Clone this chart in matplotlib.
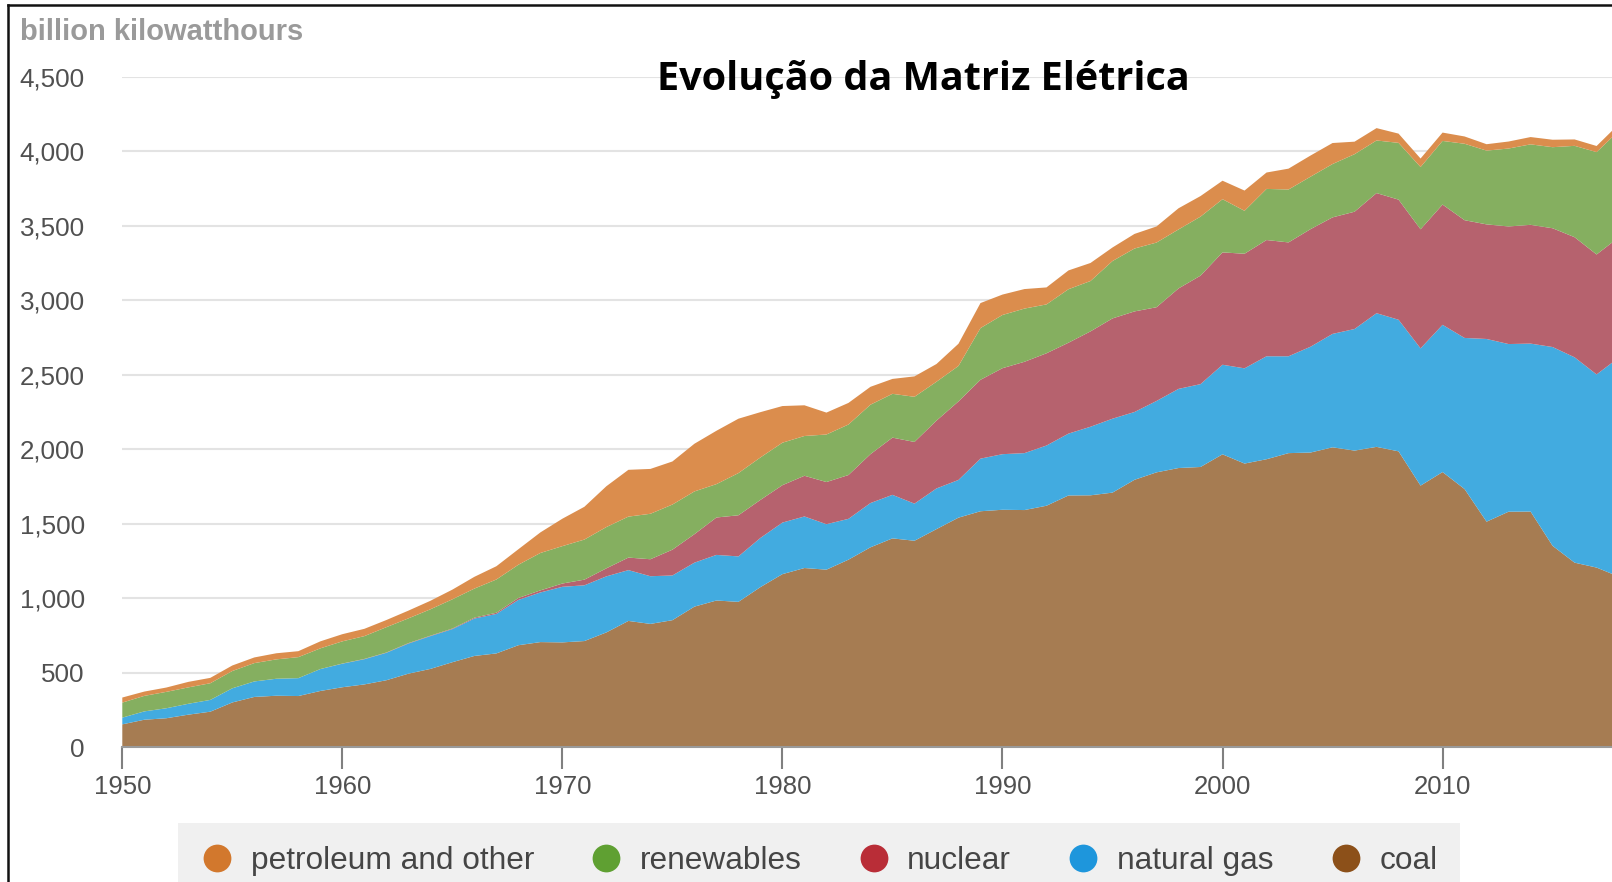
import matplotlib
matplotlib.use("Agg")
import matplotlib.pyplot as plt
from matplotlib.lines import Line2D
from matplotlib.ticker import FuncFormatter

plt.rcParams['font.family'] = ['Liberation Sans', 'DejaVu Sans']

years = list(range(1950, 2019))

coal = [154, 185, 195, 219, 239, 301, 338, 346, 344, 378,
        403, 422, 450, 494, 526, 571, 613, 630, 685, 706,
        704, 713, 771, 848, 828, 853, 944, 985, 976, 1075,
        1162, 1203, 1192, 1259, 1342, 1402, 1386, 1464, 1541, 1584,
        1594, 1592, 1621, 1690, 1691, 1709, 1795, 1845, 1874, 1881,
        1966, 1904, 1933, 1974, 1978, 2013, 1991, 2016, 1986, 1756,
        1847, 1733, 1514, 1581, 1582, 1352, 1239, 1206, 1146]

natural_gas = [45, 56, 67, 73, 79, 95, 104, 114, 120, 147,
               158, 169, 184, 202, 220, 222, 251, 265, 304, 333,
               373, 374, 376, 341, 320, 300, 295, 306, 305, 330,
               346, 346, 305, 274, 297, 292, 249, 273, 253, 353,
               373, 382, 404, 415, 460, 496, 455, 479, 531, 556,
               601, 639, 691, 650, 710, 761, 816, 897, 883, 921,
               988, 1014, 1226, 1125, 1127, 1334, 1378, 1296, 1468]

nuclear = [0, 0, 0, 0, 0, 0, 0, 0, 0, 0,
           1, 2, 2, 3, 3, 4, 6, 8, 13, 14,
           22, 38, 54, 84, 114, 173, 191, 251, 276, 255,
           251, 273, 283, 294, 328, 384, 414, 455, 527, 529,
           577, 613, 619, 610, 640, 673, 675, 629, 674, 728,
           754, 769, 780, 764, 789, 782, 787, 806, 806, 799,
           807, 790, 769, 789, 797, 797, 806, 805, 807]

renewables = [101, 104, 110, 110, 112, 116, 123, 130, 141, 139,
              149, 153, 170, 166, 177, 196, 195, 223, 223, 251,
              251, 269, 277, 275, 305, 303, 287, 224, 283, 285,
              285, 267, 319, 339, 332, 294, 303, 261, 238, 347,
              357, 357, 328, 359, 338, 385, 422, 434, 396, 396,
              357, 288, 343, 355, 352, 358, 386, 353, 381, 418,
              427, 513, 495, 523, 540, 544, 613, 687, 714]

petroleum_other = [34, 29, 29, 37, 36, 37, 38, 41, 40, 47,
                   48, 49, 48, 52, 57, 65, 79, 89, 104, 138,
                   184, 220, 274, 314, 301, 289, 320, 358, 365, 304,
                   246, 206, 147, 145, 120, 100, 137, 119, 149, 168,
                   137, 131, 114, 126, 121, 91, 98, 108, 142, 138,
                   124, 136, 110, 140, 142, 141, 84, 83, 62, 57,
                   56, 49, 43, 47, 49, 50, 43, 41, 45]

labels = ['coal', 'natural gas', 'nuclear', 'renewables', 'petroleum and other']
fill_colors = ['#A67C52', '#42ABE0', '#B6626E', '#85AF60', '#DB8D4D']
dot_colors = ['#8C5019', '#1E96DC', '#B92D37', '#5FA032', '#D2782D']

y_ticks = [0, 500, 1000, 1500, 2000, 2500, 3000, 3500, 4000, 4500]
x_ticks = [1950, 1960, 1970, 1980, 1990, 2000, 2010]

fig = plt.figure(figsize=(16.12, 8.82), dpi=100)
ax = fig.add_axes([0.07587, 0.15272, 1 - 0.07587, 0.76032])

ax.stackplot(years, coal, natural_gas, nuclear, renewables, petroleum_other,
             colors=fill_colors, linewidth=0, zorder=2)

ax.set_xlim(1950, 2017.7)
ax.set_ylim(0, 4500)
ax.set_yticks(y_ticks)
ax.set_xticks(x_ticks)
ax.yaxis.set_major_formatter(FuncFormatter(lambda v, p: f"{int(v):,}"))
ax.grid(axis='y', color='#E3E3E3', linewidth=1.5, zorder=0)
ax.set_axisbelow(True)

for side in ['top', 'right', 'left']:
    ax.spines[side].set_visible(False)
ax.spines['bottom'].set_color('#9A9A9A')
ax.spines['bottom'].set_linewidth(1.5)
ax.spines['bottom'].set_zorder(3)

ax.tick_params(axis='y', length=0, pad=27, labelsize=18.7, labelcolor='#505050')
ax.tick_params(axis='x', length=16, width=1.5, color='#808080', pad=4,
               labelsize=18.5, labelcolor='#505050')
ax.set_facecolor('white')

fig.text(20 / 1612, 1 - 40 / 882, 'billion kilowatthours', fontsize=21,
         fontweight='bold', color='#9A9A9A', va='baseline', ha='left')

fig.text(923 / 1612, 1 - 90 / 882, 'Evolução da Matriz Elétrica', fontsize=28.5,
         fontweight='bold', family=['Open Sans', 'DejaVu Sans'], color='black',
         va='baseline', ha='center')

# legend, listed in reverse stacking order
handles = [Line2D([], [], marker='o', linestyle='none', markersize=20,
                  markerfacecolor=c, markeredgecolor='none')
           for c in dot_colors[::-1]]
leg = fig.legend(handles, labels[::-1], loc='upper left',
                 bbox_to_anchor=(178.3 / 1612, 1 - 823.3 / 882),
                 bbox_transform=fig.transFigure, ncol=5, fontsize=22.8,
                 frameon=True, fancybox=False, facecolor='#F0F0F0',
                 edgecolor='none', framealpha=1, borderaxespad=0,
                 handlelength=1.0, handletextpad=0.56, columnspacing=1.78,
                 borderpad=0.72)
for t in leg.get_texts():
    t.set_color('#454545')

# border of the screenshot, left and top edges
fig.add_artist(Line2D([8.3 / 1612, 8.3 / 1612], [0, 1 - 5 / 882],
                      transform=fig.transFigure, color='#111111', linewidth=1.8))
fig.add_artist(Line2D([8.3 / 1612, 1], [1 - 5 / 882, 1 - 5 / 882],
                      transform=fig.transFigure, color='#111111', linewidth=1.8))

fig.savefig('out.png', dpi=100)
